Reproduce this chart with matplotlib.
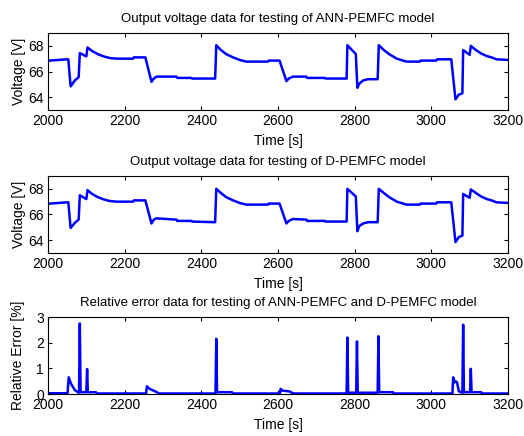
import numpy as np
import matplotlib.pyplot as plt

plt.rcParams['font.family'] = ['Liberation Sans', 'DejaVu Sans']

# time stamps of voltage break points [s]
t_volt = [2000, 2050, 2053, 2059, 2070, 2080, 2083, 2100, 2103, 2115,
          2130, 2145, 2161, 2180, 2222, 2224, 2254, 2270, 2276, 2283,
          2335, 2337, 2374, 2376, 2436, 2439, 2450, 2465, 2483, 2500,
          2517, 2574, 2576, 2604, 2622, 2628, 2639, 2674, 2676, 2722,
          2724, 2779, 2781, 2803, 2807, 2812, 2822, 2835, 2860, 2863,
          2875, 2890, 2910, 2935, 2970, 2972, 3013, 3015, 3052, 3063,
          3072, 3081, 3083, 3100, 3103, 3115, 3130, 3145, 3157, 3170, 3200]

v_ann = [66.84, 66.95, 66.95, 64.84, 65.3, 65.56, 67.43, 67.18, 67.87, 67.6,
         67.35, 67.18, 67.05, 67.0, 67.0, 67.1, 67.1, 65.2, 65.45, 65.6,
         65.6, 65.5, 65.5, 65.45, 65.45, 68.05, 67.7, 67.35, 67.1, 66.9,
         66.77, 66.77, 66.85, 66.85, 65.25, 65.45, 65.6, 65.6, 65.5, 65.5,
         65.45, 65.45, 68.05, 67.36, 64.73, 65.05, 65.3, 65.4, 65.4, 68.05,
         67.7, 67.35, 67.0, 66.77, 66.77, 66.85, 66.85, 66.95, 66.95, 63.83,
         64.2, 64.3, 67.67, 67.3, 68.0, 67.7, 67.4, 67.2, 67.1, 66.95, 66.9]

v_dpem = [66.84, 66.95, 66.95, 64.95, 65.35, 65.6, 67.5, 67.2, 67.9, 67.6,
          67.35, 67.18, 67.05, 67.0, 67.0, 67.1, 67.1, 65.3, 65.6, 65.7,
          65.6, 65.5, 65.5, 65.45, 65.4, 68.0, 67.7, 67.35, 67.1, 66.9,
          66.77, 66.77, 66.85, 66.85, 65.3, 65.5, 65.65, 65.6, 65.5, 65.5,
          65.45, 65.45, 68.0, 67.4, 64.7, 65.1, 65.3, 65.4, 65.4, 68.0,
          67.7, 67.35, 67.0, 66.77, 66.77, 66.85, 66.85, 66.95, 66.95, 63.85,
          64.25, 64.35, 67.6, 67.3, 67.95, 67.7, 67.4, 67.2, 67.1, 66.95, 66.9]

# relative error [%]
t_err = [2000, 2051, 2054, 2060, 2070, 2080, 2081, 2083, 2085, 2100,
         2102, 2104, 2125, 2127, 2256, 2258, 2265, 2280, 2290, 2437,
         2439, 2441, 2480, 2482, 2605, 2607, 2612, 2630, 2640, 2779,
         2781, 2783, 2804, 2806, 2808, 2860, 2862, 2864, 2900, 2902,
         3055, 3057, 3060, 3063, 3067, 3072, 3081, 3083, 3085, 3101,
         3103, 3105, 3130, 3132, 3200]
err = [0.03, 0.03, 0.65, 0.4, 0.15, 0.05, 0.05, 2.75, 0.07, 0.07,
       0.97, 0.07, 0.07, 0.02, 0.02, 0.3, 0.2, 0.1, 0.02, 0.02,
       2.15, 0.07, 0.07, 0.02, 0.02, 0.2, 0.13, 0.1, 0.02, 0.02,
       2.2, 0.05, 0.05, 2.05, 0.05, 0.05, 2.25, 0.07, 0.07, 0.02,
       0.02, 0.65, 0.45, 0.5, 0.45, 0.1, 0.05, 2.7, 0.07, 0.07,
       0.98, 0.07, 0.07, 0.02, 0.02]

xticks = [2000, 2200, 2400, 2600, 2800, 3000, 3200]

fig = plt.figure(figsize=(5.24, 4.36), dpi=100)
W, H = 524.0, 436.0
ax1 = fig.add_axes([48/W, 1-110/H, 460/W, 77/H])
ax2 = fig.add_axes([48/W, 1-253/H, 460/W, 77/H])
ax3 = fig.add_axes([48/W, 1-394/H, 460/W, 77/H])

ax1.plot(t_volt, v_ann, color='#0000ff', lw=1.8)
ax2.plot(t_volt, v_dpem, color='#0000ff', lw=1.8)
ax3.plot(t_err, err, color='#0000ff', lw=1.8)

titles = ['Output voltage data for testing of ANN-PEMFC model',
          'Output voltage data for testing of D-PEMFC model',
          'Relative error data for testing of ANN-PEMFC and D-PEMFC model']
for ax, ttl in zip([ax1, ax2, ax3], titles):
    ax.set_xlim(2000, 3200)
    ax.set_xticks(xticks)
    ax.set_title(ttl, fontsize=9.5, pad=8)
    ax.set_xlabel('Time [s]', fontsize=10, labelpad=4)
    ax.tick_params(direction='in', top=True, right=True, labelsize=10, length=3, pad=3)
    for s in ax.spines.values():
        s.set_linewidth(0.8)

for ax in [ax1, ax2]:
    ax.set_ylim(63, 69)
    ax.set_yticks([64, 66, 68])
    ax.set_ylabel('Voltage [V]', fontsize=10, labelpad=2)

ax3.set_ylim(0, 3)
ax3.set_yticks([0, 1, 2, 3])
ax3.set_ylabel('Relative Error [%]', fontsize=10, labelpad=8)

fig.savefig('out.png', dpi=100)
